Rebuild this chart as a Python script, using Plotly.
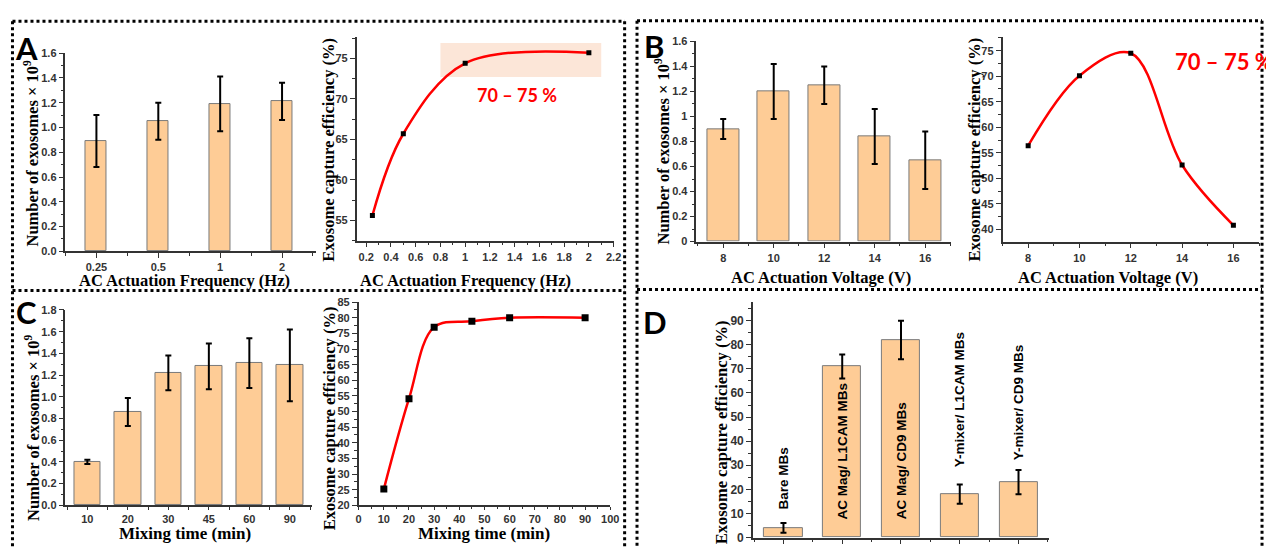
import plotly.graph_objects as go

# The page body has an 8px margin, so the figure is drawn 8px right and down.
# The figure is made a little taller than the visible window so that bottom
# texts are not pushed upward.
OFF = 8
W, H = 1274 - OFF, 560

# ---------------- data ----------------
# Panel A: AC actuation frequency
freq_labels = ["0.25", "0.5", "1", "2"]
freq_counts = [0.89, 1.05, 1.19, 1.21]
freq_count_err = [0.21, 0.15, 0.22, 0.15]
freq_values = [0.25, 0.5, 1, 2]
freq_eff = [55.6, 65.7, 74.4, 75.7]

# Panel B: AC actuation voltage
volt_labels = ["8", "10", "12", "14", "16"]
volt_counts = [0.90, 1.20, 1.25, 0.84, 0.65]
volt_count_err = [0.08, 0.22, 0.15, 0.22, 0.23]
volt_values = [8, 10, 12, 14, 16]
volt_eff = [56.4, 70.1, 74.5, 52.6, 40.8]

# Panel C: mixing time
time_labels = ["10", "20", "30", "45", "60", "90"]
time_counts = [0.40, 0.86, 1.22, 1.28, 1.31, 1.29]
time_count_err = [0.02, 0.13, 0.16, 0.21, 0.23, 0.33]
time_values = [10, 20, 30, 45, 60, 90]
time_eff = [25.2, 54.1, 77.0, 78.9, 80.0, 80.0]

# Panel D: methods
method_labels = ["Bare MBs", "AC Mag/ L1CAM MBs", "AC Mag/ CD9 MBs",
                 "Y-mixer/ L1CAM MBs", "Y-mixer/ CD9 MBs"]
method_eff = [4, 71, 82, 18, 23]
method_err = [2, 5, 8, 4, 5]

# ---------------- style ----------------
BAR_FILL = "#FECC96"
BAR_EDGE = "#7a7a7a"
AX = "#333333"
RED = "#FF0000"
TICKFONT = dict(family="Liberation Sans", size=11, color=AX, weight="bold")
TITLEFONT = dict(family="Liberation Serif", size=16.5, color="black", weight="bold")


def pxx(x):
    return (x - OFF) / W


def pxy(y):
    return 1 - (y - OFF) / H


def dom_x(l, r):
    return [pxx(l), pxx(r)]


def dom_y(top, bottom):
    return [pxy(bottom), pxy(top)]


def axis(dom, anchor, rng, **kw):
    d = dict(domain=dom, anchor=anchor, range=rng, showline=True, linecolor=AX,
             linewidth=1.5, ticks="outside", ticklen=5, tickwidth=1.3, tickcolor=AX,
             tickfont=TICKFONT, showgrid=False, zeroline=False, mirror=False)
    d.update(kw)
    return d


fig = go.Figure()


def add_bars(xref, yref, labels, vals, errs, width):
    idx = list(range(len(labels)))
    fig.add_trace(go.Bar(
        x=idx, y=vals, xaxis=xref, yaxis=yref, width=width,
        marker=dict(color=BAR_FILL, line=dict(color=BAR_EDGE, width=1)),
        error_y=dict(type="data", array=errs, color="black", thickness=2, width=3),
        showlegend=False, hoverinfo="skip"))
    return idx


def add_curve(xref, yref, xs, ys, msize):
    fig.add_trace(go.Scatter(
        x=xs, y=ys, xaxis=xref, yaxis=yref, mode="lines",
        line=dict(color=RED, width=2.5, shape="spline", smoothing=1.0),
        showlegend=False, hoverinfo="skip"))
    fig.add_trace(go.Scatter(
        x=xs, y=ys, xaxis=xref, yaxis=yref, mode="markers",
        marker=dict(symbol="square", size=msize, color="black"),
        showlegend=False, hoverinfo="skip"))


iA = add_bars("x", "y", freq_labels, freq_counts, freq_count_err, 0.34)
add_curve("x2", "y2", freq_values, freq_eff, 5)
iB = add_bars("x3", "y3", volt_labels, volt_counts, volt_count_err, 0.63)
add_curve("x4", "y4", volt_values, volt_eff, 5)
iC = add_bars("x5", "y5", time_labels, time_counts, time_count_err, 0.66)
add_curve("x6", "y6", time_values, time_eff, 7)
iD = add_bars("x7", "y7", method_labels, method_eff, method_err, 0.65)


def cat_minor(n):
    return dict(tickvals=[i + 0.5 for i in range(-1, n)], ticks="outside",
                ticklen=3, tickcolor=AX, showgrid=False)


def mnr(d):
    return dict(dtick=d, ticks="outside", ticklen=3, tickcolor=AX)


fig.update_layout(
    width=W, height=H, margin=dict(l=0, r=0, t=0, b=0),
    paper_bgcolor="white", plot_bgcolor="white", bargap=0,
    xaxis=axis(dom_x(63, 316), "y", [-0.5, 3.55], tickvals=iA, ticktext=freq_labels,
               minor=cat_minor(len(iA))),
    yaxis=axis(dom_y(48, 251), "x", [0, 1.6], dtick=0.2, tickformat=".1f", minor=mnr(0.1)),
    xaxis2=axis(dom_x(357, 617), "y2", [0.123, 2.205], tick0=0.2, dtick=0.2, minor=mnr(0.1)),
    yaxis2=axis(dom_y(32, 240), "x2", [52.5, 77.6], tick0=55, dtick=5, minor=mnr(2.5)),
    xaxis3=axis(dom_x(700, 957), "y3", [-0.53, 4.51], tickvals=iB, ticktext=volt_labels,
                minor=cat_minor(len(iB))),
    yaxis3=axis(dom_y(36, 241), "x3", [0, 1.6], dtick=0.2, minor=mnr(0.1)),
    xaxis4=axis(dom_x(1009, 1268), "y4", [7, 17], tick0=8, dtick=2, minor=mnr(1)),
    yaxis4=axis(dom_y(32, 241), "x4", [37.6, 77.6], tick0=40, dtick=5, minor=mnr(2.5)),
    xaxis5=axis(dom_x(63, 312), "y5", [-0.54, 5.55], tickvals=iC, ticktext=time_labels,
                ticklen=3, minor=cat_minor(len(iC))),
    yaxis5=axis(dom_y(311, 511), "x5", [0, 1.8], dtick=0.2, tickformat=".1f", minor=mnr(0.1)),
    xaxis6=axis(dom_x(359, 613), "y6", [0, 100], dtick=10, ticklen=3,
                minor=dict(dtick=5, ticks="outside", ticklen=2, tickcolor=AX)),
    yaxis6=axis(dom_y(303, 511), "x6", [20, 85], dtick=5, minor=mnr(2.5)),
    xaxis7=axis(dom_x(757, 1056), "y7", [-0.52, 4.52], tickvals=iD,
                showticklabels=False, minor=cat_minor(len(iD))),
    yaxis7=axis(dom_y(303, 544), "x7", [0, 97.7], dtick=10,
                tickfont=dict(family="Liberation Sans", size=12, color=AX, weight="bold"),
                minor=mnr(5)),
)

# highlighted band in A curve
fig.add_shape(type="rect", xref="x2", yref="y2", x0=0.8, x1=2.1, y0=72.7, y1=76.9,
              fillcolor="#FCE6D8", line=dict(width=0), layer="below")

# dotted panel frames (screen pixels)
frame_lines = [
    (9.5, 15.5, 627.5, 15.5), (9.5, 15.5, 9.5, 566), (627.5, 15.5, 627.5, 566),
    (9.5, 291, 627.5, 291),
    (640, 15, 1271, 15), (640, 15, 640, 566), (1271, 15, 1271, 566),
    (640, 290, 1271, 290),
]
for x0, y0, x1, y1 in frame_lines:
    fig.add_shape(type="line", xref="paper", yref="paper",
                  x0=pxx(x0), y0=pxy(y0), x1=pxx(x1), y1=pxy(y1),
                  line=dict(color="black", width=3, dash="dot"))

ann = []


def title(text, x, y, angle=0, font=TITLEFONT):
    ann.append(dict(text=text, x=pxx(x), y=pxy(y), xref="paper", yref="paper",
                    showarrow=False, textangle=angle, xanchor="center",
                    yanchor="middle", font=font))


ylab_count = "Number of exosomes × 10<sup>9</sup>"
ylab_eff = "Exosome capture efficiency (%)"
title(ylab_count, 29, 150, -90)
title("AC Actuation Frequency (Hz)", 183, 281)
title(ylab_eff, 329, 147, -90)
title("AC Actuation Frequency (Hz)", 467, 281)
title(ylab_count, 666, 148, -90)
title("AC Actuation Voltage (V)", 826, 278)
title(ylab_eff, 981, 147, -90)
title("AC Actuation Voltage (V)", 1116, 278)
title(ylab_count, 29, 431, -90)
title(ylab_eff, 329, 422, -90)
title(ylab_eff, 725, 436, -90)

MIXFONT = dict(family="Liberation Serif", size=17, color="black", weight="bold")
title("Mixing time (min)", 184, 540, font=MIXFONT)
title("Mixing time (min)", 486, 540, font=MIXFONT)

LETTER = dict(family="Lato", size=31, color="black", weight="bold")
title("A", 24, 43, font=LETTER)
title("B", 657, 41, font=LETTER)
title("C", 24, 313, font=LETTER)
title("D", 658, 323, font=LETTER)

# red range annotations
ann.append(dict(text="70 – 75 %", x=1.42, y=70.5, xref="x2", yref="y2", showarrow=False,
                font=dict(family="Lato", size=18, color=RED, weight="bold")))
ann.append(dict(text="70 – 75 %", x=15.65, y=72.8, xref="x4", yref="y4", showarrow=False,
                font=dict(family="Lato", size=22, color=RED, weight="bold")))

# rotated method labels in D
label_bottoms = [11, 6.5, 7, 28.5, 31]
for i, lab in enumerate(method_labels):
    ann.append(dict(text=lab, x=iD[i], y=label_bottoms[i], xref="x7", yref="y7",
                    showarrow=False, textangle=-90, xanchor="center", yanchor="bottom",
                    font=dict(family="Liberation Sans", size=13.5, color="black",
                              weight="bold")))

fig.update_layout(annotations=ann)
fig.write_html("out.html")
